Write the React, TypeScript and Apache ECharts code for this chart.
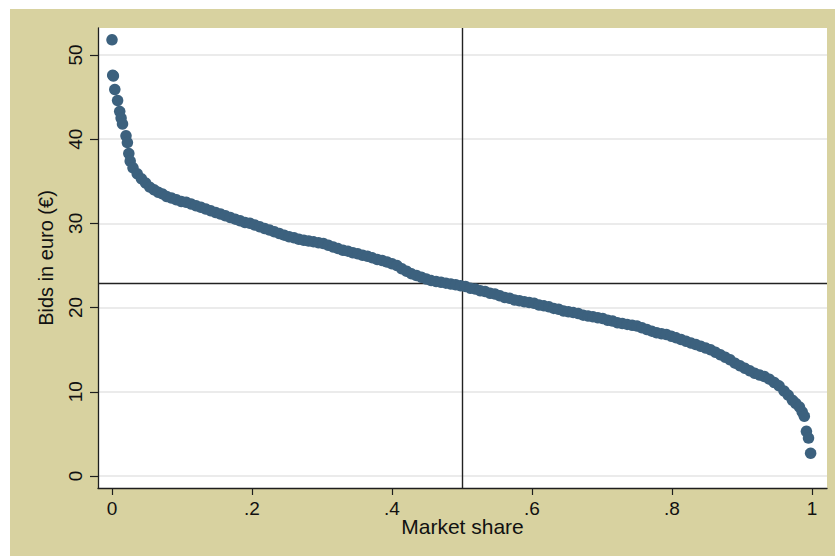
import React, { useEffect, useRef } from "react";
import * as echarts from "echarts";

// Market share (cumulative) and bids in euro
const marketShare = [
  0.000, 0.001, 0.002, 0.004, 0.008, 0.011, 0.013, 0.015, 0.020, 0.022, 0.024, 0.026,
  0.030, 0.036, 0.042, 0.048, 0.054, 0.060, 0.066, 0.072, 0.078, 0.085, 0.092, 0.099,
  0.106, 0.113, 0.120, 0.127, 0.134, 0.141, 0.148, 0.155, 0.162, 0.169, 0.176, 0.183,
  0.190, 0.197, 0.204, 0.211, 0.218, 0.225, 0.232, 0.239, 0.246, 0.253, 0.260, 0.267,
  0.274, 0.281, 0.288, 0.295, 0.302, 0.309, 0.316, 0.323, 0.330, 0.337, 0.344, 0.351,
  0.358, 0.365, 0.372, 0.379, 0.386, 0.393, 0.400, 0.407, 0.414, 0.421, 0.428, 0.435,
  0.442, 0.449, 0.456, 0.463, 0.470, 0.477, 0.484, 0.491, 0.498, 0.505, 0.512, 0.519,
  0.526, 0.533, 0.540, 0.547, 0.554, 0.561, 0.568, 0.575, 0.582, 0.589, 0.596, 0.603,
  0.610, 0.617, 0.624, 0.631, 0.638, 0.645, 0.652, 0.659, 0.666, 0.673, 0.680, 0.687,
  0.694, 0.701, 0.708, 0.715, 0.722, 0.729, 0.736, 0.743, 0.750, 0.757, 0.764, 0.771,
  0.778, 0.785, 0.792, 0.799, 0.806, 0.813, 0.820, 0.827, 0.834, 0.841, 0.848, 0.855,
  0.862, 0.869, 0.876, 0.883, 0.890, 0.897, 0.904, 0.911, 0.918, 0.925, 0.932, 0.939,
  0.946, 0.953, 0.960, 0.966, 0.972, 0.977, 0.982, 0.986, 0.989, 0.992, 0.995, 0.998,
];
const bids = [
  51.8, 47.6, 47.5, 45.9, 44.6, 43.3, 42.5, 41.8, 40.4, 39.6, 38.3, 37.4,
  36.6, 35.9, 35.3, 34.8, 34.3, 34.0, 33.7, 33.5, 33.2, 33.0, 32.8, 32.6,
  32.5, 32.3, 32.1, 31.9, 31.7, 31.5, 31.3, 31.1, 30.9, 30.7, 30.5, 30.3,
  30.1, 30.0, 29.8, 29.6, 29.4, 29.2, 29.0, 28.8, 28.6, 28.4, 28.3, 28.1,
  28.0, 27.9, 27.8, 27.7, 27.6, 27.4, 27.2, 27.0, 26.8, 26.7, 26.5, 26.4,
  26.2, 26.1, 25.9, 25.7, 25.6, 25.4, 25.2, 25.0, 24.6, 24.3, 24.0, 23.8,
  23.6, 23.4, 23.2, 23.1, 23.0, 22.9, 22.8, 22.7, 22.6, 22.5, 22.3, 22.2,
  22.0, 21.9, 21.7, 21.6, 21.4, 21.2, 21.1, 20.9, 20.8, 20.7, 20.6, 20.5,
  20.3, 20.2, 20.1, 19.9, 19.8, 19.6, 19.5, 19.4, 19.3, 19.1, 19.0, 18.9,
  18.8, 18.7, 18.5, 18.4, 18.2, 18.1, 18.0, 17.9, 17.8, 17.6, 17.4, 17.2,
  17.0, 16.9, 16.8, 16.6, 16.4, 16.2, 16.0, 15.8, 15.6, 15.4, 15.2, 15.0,
  14.7, 14.4, 14.1, 13.8, 13.4, 13.1, 12.8, 12.5, 12.2, 12.0, 11.8, 11.5,
  11.1, 10.7, 10.1, 9.6, 9.0, 8.6, 8.2, 7.6, 7.1, 5.3, 4.5, 2.7,
];

const xTickValues = [0, 0.2, 0.4, 0.6, 0.8, 1];
const xTickLabels = ["0", ".2", ".4", ".6", ".8", "1"];
const yTickValues = [0, 10, 20, 30, 40, 50];
const yTickLabels = ["0", "10", "20", "30", "40", "50"];

const refShare = 0.5;
const refBid = 22.9;

export default function App() {
  const ref = useRef<HTMLDivElement>(null);

  useEffect(() => {
    if (!ref.current) return;
    const chart = echarts.init(ref.current, null, { renderer: "svg" });
    const font = "'Liberation Sans', Arial, sans-serif";
    const axisColor = "#1e1e1e";
    chart.setOption({
      animation: false,
      backgroundColor: "#D8D2A0",
      textStyle: { fontFamily: font },
      grid: {
        left: 88,
        top: 19,
        right: 8,
        bottom: 68,
        show: true,
        backgroundColor: "#ffffff",
        borderWidth: 0,
      },
      xAxis: {
        type: "value",
        min: -0.02,
        max: 1.0214,
        axisLine: { show: true, onZero: false, lineStyle: { color: axisColor, width: 1.3 } },
        axisTick: {
          show: true,
          length: 7,
          customValues: xTickValues,
          lineStyle: { color: axisColor, width: 1.2 },
        },
        axisLabel: {
          customValues: xTickValues,
          fontSize: 19,
          color: "#111",
          fontFamily: font,
          margin: 11,
          formatter: (v: number) => {
            const i = xTickValues.findIndex((t) => Math.abs(t - v) < 1e-6);
            return i >= 0 ? xTickLabels[i] : "";
          },
        },
        splitLine: { show: false },
        name: "Market share",
        nameLocation: "middle",
        nameGap: 28,
        nameMoveOverlap: false,
        nameTextStyle: { fontSize: 21, color: "#111", fontFamily: font },
      },
      yAxis: {
        type: "value",
        min: -1.43,
        max: 53.2,
        axisLine: { show: true, onZero: false, lineStyle: { color: axisColor, width: 1.3 } },
        axisTick: {
          show: true,
          length: 8,
          customValues: yTickValues,
          lineStyle: { color: axisColor, width: 1.2 },
        },
        axisLabel: {
          customValues: yTickValues,
          rotate: 90,
          fontSize: 19,
          color: "#111",
          fontFamily: font,
          margin: 13,
          formatter: (v: number) => {
            const i = yTickValues.findIndex((t) => Math.abs(t - v) < 1e-6);
            return i >= 0 ? yTickLabels[i] : "";
          },
        },
        splitLine: { show: true, lineStyle: { color: "#E4E4E4", width: 1.5 } },
        name: "Bids in euro (€)",
        nameLocation: "middle",
        nameGap: 42,
        nameMoveOverlap: false,
        nameTextStyle: { fontSize: 20, color: "#111", fontFamily: font },
      },
      series: [
        {
          type: "scatter",
          z: 3,
          symbol: "circle",
          symbolSize: 11.5,
          itemStyle: { color: "#3C617E", opacity: 1 },
          data: marketShare.map((s, i) => [s, bids[i]]),
          markLine: {
            z: 1,
            silent: true,
            symbol: ["none", "none"],
            label: { show: false },
            lineStyle: { color: "#222", width: 1.4, type: "solid" },
            data: [{ xAxis: refShare }, { yAxis: refBid }],
          },
        },
      ],
    });
    return () => chart.dispose();
  }, []);

  return (
    <div
      ref={ref}
      style={{ position: "fixed", left: 10, top: 9, width: 825, height: 547 }}
    />
  );
}
